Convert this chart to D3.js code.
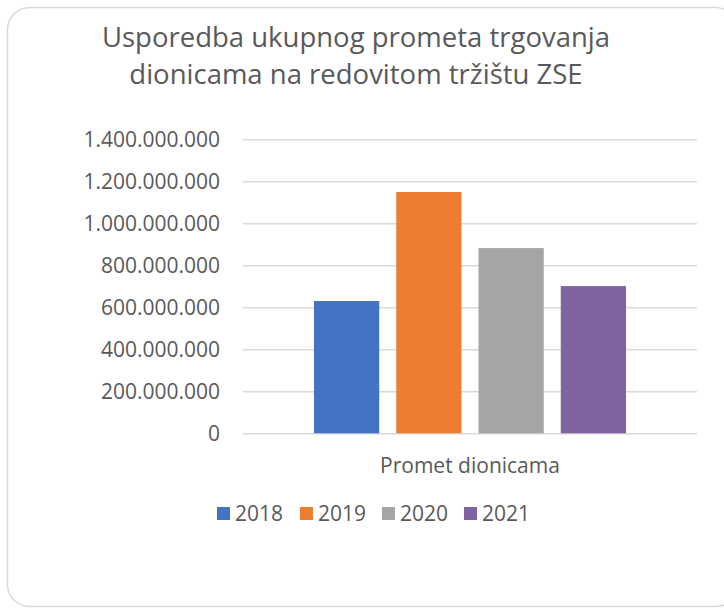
<!DOCTYPE html>
<html>
<head>
<meta charset="utf-8">
<script src="https://cdn.jsdelivr.net/npm/d3@7"></script>
<style>
	body { margin: 0; background: #fff; }
	text { font-family: "Open Sans", sans-serif; fill: #595959; }
</style>
</head>
<body>
<div id="chart"></div>
<script>
const titleLines = ['Usporedba ukupnog prometa trgovanja', 'dionicama na redovitom tržištu ZSE'];
const categories = ['Promet dionicama'];
const years = ['2018', '2019', '2020', '2021'];
const values = [630000000, 1149000000, 882000000, 701000000];
const colors = ['#4472c4', '#ed7d31', '#a5a5a5', '#8064a2'];
const yTicks = [0, 200000000, 400000000, 600000000, 800000000, 1000000000, 1200000000, 1400000000];

const width = 724, height = 610;
const plot = {left: 243, right: 697, top: 139.3, bottom: 433.3};

const svg = d3.select('#chart')
	.append('svg')
	.attr('width', width)
	.attr('height', height);

// chart frame
svg.append('rect')
	.attr('x', 7.5)
	.attr('y', 7.5)
	.attr('width', 730)
	.attr('height', 599)
	.attr('rx', 22)
	.attr('fill', '#fff')
	.attr('stroke', '#d9d9d9')
	.attr('stroke-width', 1.5);

svg.append('text')
	.attr('text-anchor', 'middle')
	.style('font-size', '27.5px')
	.selectAll('tspan')
	.data(titleLines)
	.join('tspan')
	.attr('x', 356)
	.attr('y', (d, i) => 47 + i * 37)
	.text(d => d);

const y = d3.scaleLinear()
	.domain([0, 1400000000])
	.range([plot.bottom, plot.top]);

const x0 = d3.scaleBand()
	.domain(categories)
	.range([plot.left, plot.right])
	.paddingInner(0)
	.paddingOuter(0.2276);

const x1 = d3.scaleBand()
	.domain(years)
	.range([0, x0.bandwidth()])
	.paddingInner(0.207)
	.paddingOuter(0);

const fmt = v => d3.format(',')(v).replace(/,/g, '.');

const yAxis = d3.axisLeft(y)
	.tickValues(yTicks)
	.tickSize(-(plot.right - plot.left))
	.tickPadding(23)
	.tickFormat(fmt);

svg.append('g')
	.attr('transform', `translate(${plot.left},0)`)
	.call(yAxis)
	.call(g => g.select('.domain').remove())
	.call(g => g.selectAll('.tick line')
		.attr('stroke', '#d9d9d9')
		.attr('stroke-width', 1.5))
	.call(g => g.selectAll('.tick text')
		.attr('fill', '#595959')
		.style('font-family', '"Open Sans", sans-serif')
		.style('font-size', '21px'));

const data = years.map((yr, i) => ({year: yr, value: values[i], color: colors[i]}));

svg.append('g')
	.selectAll('rect')
	.data(data)
	.join('rect')
	.attr('x', d => x0(categories[0]) + x1(d.year))
	.attr('y', d => y(d.value))
	.attr('width', x1.bandwidth())
	.attr('height', d => y(0) - y(d.value))
	.attr('fill', d => d.color);

svg.append('text')
	.attr('x', x0(categories[0]) + x0.bandwidth() / 2)
	.attr('y', 473)
	.attr('text-anchor', 'middle')
	.style('font-size', '21px')
	.text(categories[0]);

// legend
const legendX = [217, 300, 382, 464];
const legend = svg.append('g')
	.selectAll('g.legend')
	.data(data)
	.join('g')
	.attr('class', 'legend')
	.attr('transform', (d, i) => `translate(${legendX[i]},507)`);

legend.append('rect')
	.attr('width', 13)
	.attr('height', 13)
	.attr('fill', d => d.color);

legend.append('text')
	.attr('x', 18)
	.attr('y', 14)
	.style('font-size', '21px')
	.text(d => d.year);
</script>
</body>
</html>
